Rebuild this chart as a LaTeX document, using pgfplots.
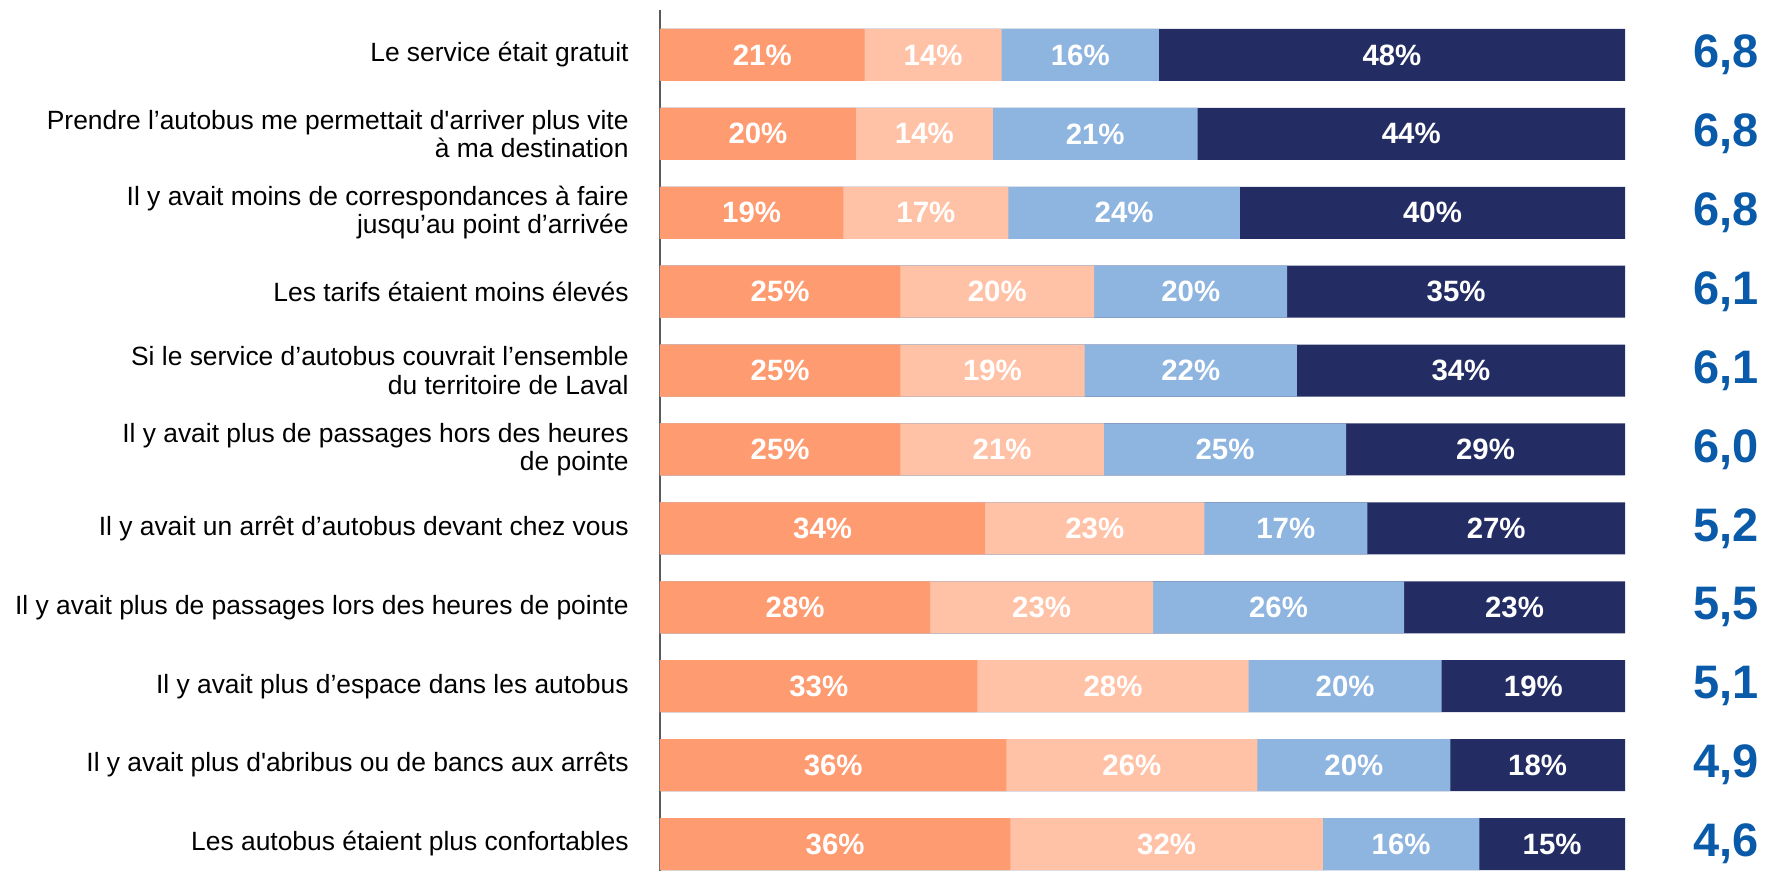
\documentclass[border=0pt]{standalone}
\usepackage{fontspec}
\setmainfont{Liberation Sans}
\usepackage{pgfplots}
\usepackage{pgfplotstable}
\pgfplotsset{compat=1.18}
\definecolor{cA}{RGB}{255,155,112}
\definecolor{cB}{RGB}{255,194,166}
\definecolor{cC}{RGB}{142,180,224}
\definecolor{cD}{RGB}{35,45,100}
\definecolor{avgc}{RGB}{10,90,170}
\definecolor{axc}{RGB}{90,90,90}
\pgfplotstableread{
y a b c d la lb lc ld avg
1 21.2 14.2 16.3 48.3 21 14 16 48 6,8
2 20.3 14.2 21.2 44.3 20 14 21 44 6,8
3 19.0 17.1 24.0 39.9 19 17 24 40 6,8
4 24.9 20.1 20.0 35.0 25 20 20 35 6,1
5 24.9 19.1 22.0 34.0 25 19 22 34 6,1
6 24.9 21.1 25.1 28.9 25 21 25 29 6,0
7 33.7 22.7 16.9 26.7 34 23 17 27 5,2
8 28.0 23.1 26.0 22.9 28 23 26 23 5,5
9 32.9 28.1 20.0 19.0 33 28 20 19 5,1
10 35.9 26.0 20.0 18.1 36 26 20 18 4,9
11 36.3 32.4 16.2 15.1 36 32 16 15 4,6
}\data
\begin{document}
\begin{tikzpicture}
\begin{axis}[
  name=ax,
  scale only axis,
  width=482.5pt, height=430.5pt,
  xmin=0, xmax=100,
  ymin=0.43, ymax=11.342,
  y dir=reverse,
  clip=false,
  axis x line=none,
  axis y line=left,
  y axis line style={-, draw=axc, line width=1pt},
  major tick length=0pt,
  ytick={1,...,11},
  yticklabels={
    {Le service était gratuit},
    {Prendre l’autobus me permettait d\textquotesingle arriver plus vite\\à ma destination},
    {Il y avait moins de correspondances à faire\\jusqu’au point d’arrivée},
    {Les tarifs étaient moins élevés},
    {Si le service d’autobus couvrait l’ensemble\\du territoire de Laval},
    {Il y avait plus de passages hors des heures\\de pointe},
    {Il y avait un arrêt d’autobus devant chez vous},
    {Il y avait plus de passages lors des heures de pointe},
    {Il y avait plus d’espace dans les autobus},
    {Il y avait plus d\textquotesingle abribus ou de bancs aux arrêts},
    {Les autobus étaient plus confortables}},
  yticklabel style={anchor=east, inner sep=0pt, xshift=-15.5pt, align=right,
    font=\fontsize{13.2}{14.2}\selectfont, text=black},
]
\addplot[xbar, bar width=26pt, bar shift=0pt, fill=cD, draw=none]
  table[x expr=\thisrow{a}+\thisrow{b}+\thisrow{c}+\thisrow{d}, y=y]{\data};
\addplot[xbar, bar width=26pt, bar shift=0pt, fill=cC, draw=none]
  table[x expr=\thisrow{a}+\thisrow{b}+\thisrow{c}, y=y]{\data};
\addplot[xbar, bar width=26pt, bar shift=0pt, fill=cB, draw=none]
  table[x expr=\thisrow{a}+\thisrow{b}, y=y]{\data};
\addplot[xbar, bar width=26pt, bar shift=0pt, fill=cA, draw=none]
  table[x=a, y=y]{\data};
\pgfplotsset{pctlab/.style={draw=none, no markers, point meta=explicit symbolic,
  nodes near coords={\pgfplotspointmeta\%},
  nodes near coords style={anchor=center, text=white, inner sep=0pt,
    font=\bfseries\fontsize{14.7}{16}\selectfont}}}
\addplot[pctlab] table[x expr=\thisrow{a}/2, y=y, meta=la]{\data};
\addplot[pctlab] table[x expr=\thisrow{a}+\thisrow{b}/2, y=y, meta=lb]{\data};
\addplot[pctlab] table[x expr=\thisrow{a}+\thisrow{b}+\thisrow{c}/2, y=y, meta=lc]{\data};
\addplot[pctlab] table[x expr=\thisrow{a}+\thisrow{b}+\thisrow{c}+\thisrow{d}/2, y=y, meta=ld]{\data};
\addplot[draw=none, no markers, point meta=explicit symbolic,
  nodes near coords={\pgfplotspointmeta},
  nodes near coords style={anchor=center, text=avgc, inner sep=0pt,
    font=\bfseries\fontsize{23.5}{26}\selectfont}]
  table[x expr=110.5, y=y, meta=avg]{\data};
\end{axis}
\pgfresetboundingbox
\path[use as bounding box] ([xshift=-330pt]ax.south west) rectangle ([xshift=556pt,yshift=5pt]ax.north west);
\end{tikzpicture}
\end{document}
